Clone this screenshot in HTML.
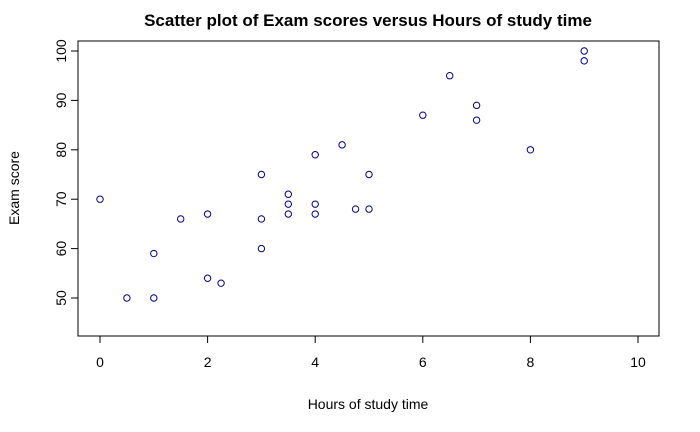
<!DOCTYPE html>
<html><head><meta charset="utf-8"><style>body{margin:0;background:#fff}svg{display:block;font-family:"Liberation Sans",Arial,sans-serif}</style></head>
<body>
<svg id="chart" width="700" height="432">
<text x="368" y="26" text-anchor="middle" font-size="17" font-weight="bold">Scatter plot of Exam scores versus Hours of study time</text>
<rect x="78" y="41" width="581" height="295" fill="none" stroke="#000" stroke-width="1"/>
<text x="368" y="409" text-anchor="middle" font-size="14">Hours of study time</text>
<text transform="translate(19,188) rotate(-90)" text-anchor="middle" font-size="14">Exam score</text>
<g id="axes"></g><g id="pts"></g>
</svg>
<script>
const hours=[0,0.5,1,1,1.5,2,2,2.25,3,3,3,3.5,3.5,3.5,4,4,4,4.5,4.75,5,5,6,6.5,7,7,8,9,9];
const scores=[70,50,59,50,66,67,54,53,75,66,60,71,69,67,79,69,67,81,68,75,68,87,95,89,86,80,100,98];
const xTicks=[0,2,4,6,8,10];
const yTicks=[50,60,70,80,90,100];
const NS="http://www.w3.org/2000/svg";
const xs=v=>100+v*53.8;
const ys=v=>298-(v-50)*4.94;
const ax=document.getElementById('axes'),pg=document.getElementById('pts');
function mk(t,a){const e=document.createElementNS(NS,t);for(const k in a)e.setAttribute(k,a[k]);return e;}
ax.appendChild(mk('line',{x1:xs(xTicks[0]),x2:xs(xTicks[xTicks.length-1]),y1:336,y2:336,stroke:'#000'}));
xTicks.forEach(t=>{
 const l=mk('line',{x1:xs(t),x2:xs(t),y1:336,y2:343,stroke:'#000'});
 
 
 ax.appendChild(l);
 const tx=mk('text',{x:xs(t),y:367,'text-anchor':'middle','font-size':14});
 tx.textContent=t;
 
 
 ax.appendChild(tx);
});
yTicks.forEach(t=>{
 const l=mk('line',{x1:71,x2:78,y1:ys(t),y2:ys(t),stroke:'#000'});
 
 
 ax.appendChild(l);
 const tx=mk('text',{transform:`translate(66,${ys(t)}) rotate(-90)`,'text-anchor':'middle','font-size':14});
 tx.textContent=t;
 
 
 ax.appendChild(tx);
});
hours.forEach((h,i)=>{
 const c=mk('circle',{cx:xs(h),cy:ys(scores[i]),r:3.2,fill:'none',stroke:'#00008b','stroke-width':1});
 
 
 pg.appendChild(c);
});
</script>
</body></html>
